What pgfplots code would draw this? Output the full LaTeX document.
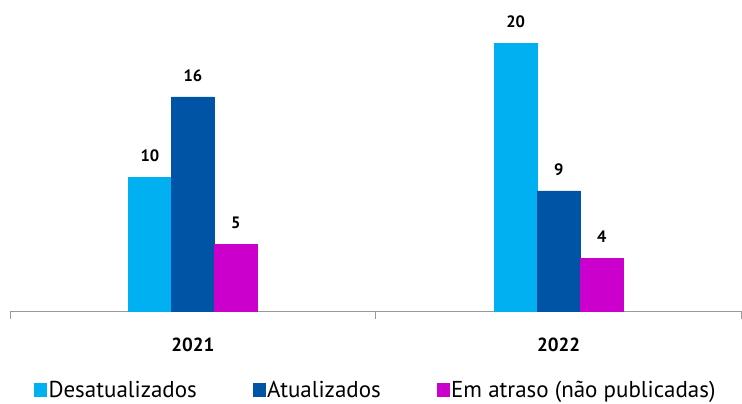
\documentclass[border=0pt]{standalone}
\usepackage{pgfplots}
\pgfplotsset{compat=1.18}
\usepackage{fontspec}
\setmainfont{PT Sans}
\definecolor{cDes}{HTML}{00B0F0}
\definecolor{cAtu}{HTML}{0054A6}
\definecolor{cAtr}{HTML}{CC00CC}
\begin{document}
\begin{tikzpicture}
\begin{axis}[
  width=732pt, height=312pt,
  scale only axis,
  ybar=0pt, bar width=43pt,
  xmin=-0.5, xmax=1.5,
  ymin=0, ymax=23.2,
  axis x line*=bottom,
  axis y line=none,
  x axis line style={draw=gray!80, line width=0.8pt},
  xtick={0,1},
  xticklabels={2021,2022},
  xticklabel style={font=\fontsize{19}{19}\selectfont\bfseries, yshift=-23pt},
  major tick length=0pt,
  minor xtick={-0.5,0.5,1.5},
  minor tick length=7pt,
  tick align=outside,
  minor tick style={draw=gray!80, line width=0.8pt},
  /pgf/number format/assume math mode=true,
  nodes near coords,
  every node near coord/.append style={font=\fontsize{16.5}{16.5}\selectfont\bfseries, yshift=12pt},
  legend style={at={(0.5,-0.21)}, anchor=north, draw=none,
    font=\fontsize{23}{23}\selectfont, legend columns=3,
    /tikz/every even column/.append style={column sep=54pt}},
  legend image code/.code={\fill[#1] (0pt,-6pt) rectangle (12pt,7pt);},
]
\addplot[fill=cDes, draw=cDes] coordinates {(0,10) (1,20)};
\addplot[fill=cAtu, draw=cAtu] coordinates {(0,16) (1,9)};
\addplot[fill=cAtr, draw=cAtr] coordinates {(0,5) (1,4)};
\legend{Desatualizados, Atualizados, Em atraso (não publicadas)}
\path (rel axis cs:0,0) ++(-10pt,0pt) coordinate (padL);
\path (rel axis cs:0,1) coordinate (padT);
\end{axis}
\path (padL) circle (0pt);
\path (padT) circle (0pt);
\end{tikzpicture}
\end{document}
